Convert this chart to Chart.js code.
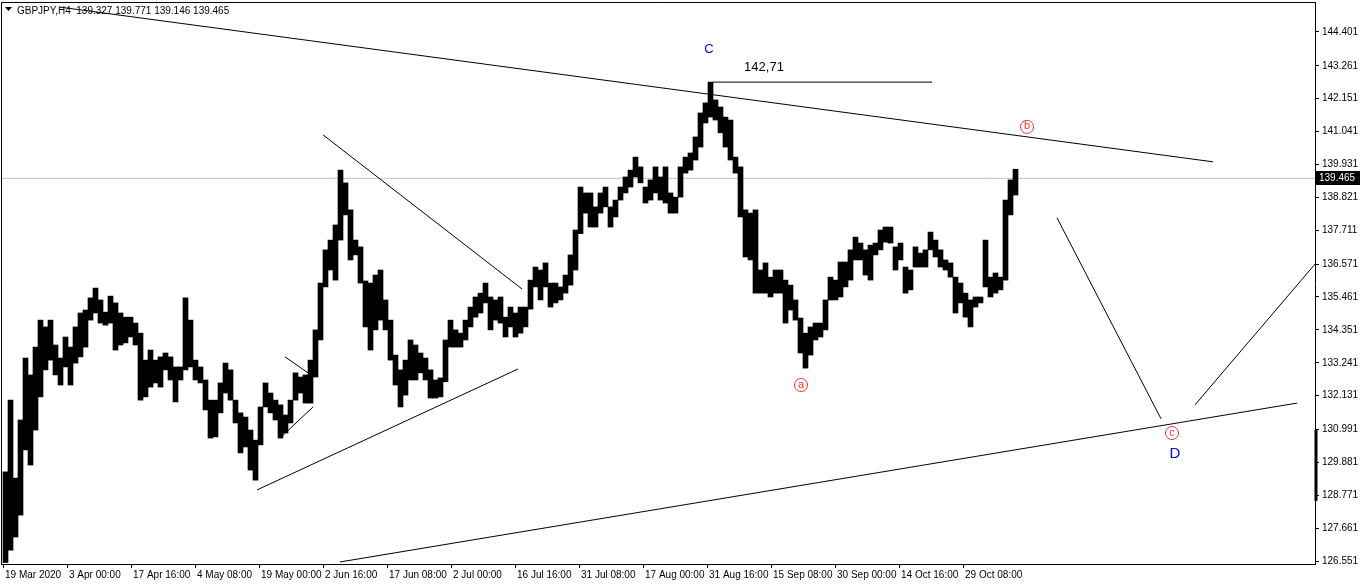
<!DOCTYPE html>
<html>
<head>
<meta charset="utf-8">
<title>GBPJPY,H4</title>
<script src="https://cdn.jsdelivr.net/npm/chart.js@4.4.0/dist/chart.umd.min.js"></script>
<style>
  html, body { margin: 0; padding: 0; background: #fff; }
  #wrap { width: 1362px; height: 584px; }
</style>
</head>
<body>
<div id="wrap"><canvas id="chartCanvas" width="1362" height="584"></canvas></div>
<script>
(function() {
  'use strict';

  // time labels, one every 64 H4 bars starting at bar 0
  var timeLabels = ['19 Mar 2020', '3 Apr 00:00', '17 Apr 16:00', '4 May 08:00', '19 May 00:00',
    '2 Jun 16:00', '17 Jun 08:00', '2 Jul 00:00', '16 Jul 16:00', '31 Jul 08:00', '17 Aug 00:00',
    '31 Aug 16:00', '15 Sep 08:00', '30 Sep 00:00', '14 Oct 16:00', '29 Oct 08:00'];
  var barsPerLabel = 64;

  var priceTicks = [144.401, 143.261, 142.151, 141.041, 139.931, 138.821, 137.711, 136.571,
    135.461, 134.351, 133.241, 132.131, 130.991, 129.881, 128.771, 127.661, 126.551];

  // price range per group of 5 H4 bars
  var barsPerCol = 5;
  var colHigh = [
    129.56, 131.98, 129.35, 131.31, 133.40, 132.83, 133.77, 134.68, 134.45, 134.68,
    133.84, 133.40, 134.11, 133.77, 134.45, 134.92, 135.02, 135.43, 135.76, 135.36,
    134.95, 135.49, 135.26, 134.92, 134.78, 134.78, 134.58, 134.24, 133.33, 133.67,
    133.33, 133.44, 133.57, 133.44, 133.10, 133.10, 135.43, 134.68, 133.33, 133.10,
    132.66, 131.98, 131.98, 132.56, 133.23, 133.00, 131.98, 131.55, 131.41, 130.97,
    130.63, 131.75, 132.56, 132.22, 131.98, 131.82, 131.48, 131.98, 132.90, 132.76,
    132.83, 133.33, 134.35, 135.93, 137.05, 137.38, 137.89, 139.74, 139.31, 138.40,
    137.38, 137.15, 136.00, 135.93, 136.20, 136.37, 135.36, 134.68, 133.50, 133.00,
    133.33, 134.01, 133.84, 133.57, 133.40, 133.00, 132.66, 132.73, 134.01, 134.68,
    134.35, 134.24, 134.68, 135.12, 135.46, 135.59, 135.93, 135.46, 135.36, 135.46,
    134.78, 135.12, 134.92, 135.12, 135.12, 136.03, 136.47, 136.37, 136.61, 135.93,
    135.93, 135.80, 136.20, 136.88, 137.72, 139.17, 138.97, 138.97, 138.50, 138.97,
    139.17, 138.50, 138.73, 139.17, 139.51, 139.74, 140.18, 139.85, 139.17, 139.41,
    139.85, 139.51, 139.85, 138.97, 138.83, 139.85, 140.18, 140.32, 140.86, 141.67,
    142.01, 142.71, 142.11, 141.87, 141.53, 141.43, 140.18, 139.85, 138.40, 138.29,
    138.40, 136.37, 136.61, 136.13, 136.37, 136.37, 136.03, 135.86, 135.36, 134.75,
    134.24, 134.45, 134.58, 134.58, 135.36, 136.13, 136.03, 136.64, 136.64, 137.05,
    137.48, 137.28, 137.05, 137.21, 137.28, 137.72, 137.82, 137.82, 137.15, 137.28,
    136.47, 136.37, 137.15, 136.94, 137.05, 137.65, 137.38, 137.05, 136.71, 136.61,
    136.13, 135.93, 135.59, 135.36, 135.46, 135.46, 137.38, 136.13, 136.27, 136.13,
    138.73, 139.41, 139.77
  ];
  var colLow = [
    126.50, 126.92, 127.36, 128.10, 130.30, 129.79, 130.97, 132.09, 133.00, 133.33,
    132.83, 132.49, 133.10, 132.49, 133.23, 133.44, 133.77, 134.68, 134.92, 134.58,
    134.51, 134.58, 133.67, 133.84, 133.91, 134.11, 133.84, 131.98, 132.09, 132.42,
    132.56, 132.42, 133.00, 132.66, 131.92, 132.66, 133.00, 133.10, 132.66, 132.56,
    131.65, 130.70, 130.74, 131.55, 132.22, 131.98, 131.21, 130.20, 130.40, 129.62,
    129.28, 130.47, 131.75, 131.55, 131.31, 130.70, 130.87, 131.21, 131.98, 132.22,
    131.88, 131.88, 132.76, 134.01, 135.80, 136.37, 136.03, 137.38, 138.23, 136.71,
    136.88, 135.93, 134.45, 133.67, 134.35, 134.68, 134.35, 133.33, 132.49, 131.75,
    132.15, 132.66, 132.66, 132.90, 132.66, 132.05, 132.05, 132.09, 132.60, 133.77,
    133.77, 133.77, 134.01, 134.45, 134.78, 134.92, 135.26, 134.35, 134.68, 134.58,
    134.11, 134.45, 134.11, 134.24, 134.45, 135.05, 135.80, 135.36, 135.80, 135.12,
    135.26, 135.36, 135.59, 135.86, 136.37, 137.60, 138.29, 137.82, 137.82, 138.29,
    138.50, 137.82, 138.16, 138.73, 138.97, 139.17, 139.51, 139.31, 138.63, 138.73,
    138.97, 138.73, 138.63, 138.29, 138.29, 138.83, 139.64, 139.74, 140.08, 140.52,
    141.33, 141.53, 141.43, 141.00, 140.52, 140.08, 139.64, 138.16, 136.81, 136.71,
    135.59, 135.59, 135.59, 135.46, 135.59, 135.59, 134.58, 135.02, 134.68, 133.57,
    133.06, 133.50, 134.01, 134.11, 134.35, 135.36, 135.36, 135.46, 135.80, 136.03,
    136.71, 136.71, 136.20, 136.03, 136.88, 137.05, 137.31, 137.28, 136.37, 136.71,
    135.59, 135.70, 136.47, 136.47, 136.47, 137.05, 136.81, 136.47, 136.37, 136.13,
    134.92, 135.26, 134.78, 134.45, 135.12, 135.26, 135.80, 135.46, 135.59, 135.70,
    136.03, 138.23, 138.90
  ];

  var symbol = 'GBPJPY,H4';
  var lastQuote = [139.327, 139.771, 139.146, 139.465]; // open, high, low, close

  // drawn trend lines: [bar, price, bar, price]
  var trendLines = [
    [57, 145.24, 1210, 140.02],
    [337, 126.52, 1294, 131.88],
    [320, 140.93, 519, 135.73],
    [254, 128.95, 515, 133.03],
    [282, 133.44, 305, 132.90],
    [277, 130.70, 310, 131.75],
    [710, 142.71, 929, 142.71],
    [1054, 138.13, 1158, 131.35],
    [1192, 131.82, 1312, 136.57]
  ];

  // wave labels: [text, bar, price]
  var waveLabels = [['C', 706, 143.80], ['D', 1172, 130.16]];
  var subWaves = [['a', 798, 132.49], ['b', 1024, 141.20], ['c', 1169, 130.87]];
  var levelLabel = ['142,71', 761, 143.22];
  var axisMarker = [130.97, 128.58];

  var xMin = -2, xMax = 1312;
  var yMin = 126.451, yMax = 145.413;

  function buildDatasets() {
    var sets = [];
    sets.push({
      type: 'bar',
      data: colHigh.map(function(h, i) {
        return { x: i * barsPerCol + barsPerCol / 2, y: [colLow[i], h] };
      }),
      backgroundColor: '#000',
      borderWidth: 0,
      barThickness: barsPerCol,
      order: 5
    });
    sets.push({
      type: 'line',
      data: [{ x: xMin, y: lastQuote[3] }, { x: xMax, y: lastQuote[3] }],
      borderColor: '#c0c0c0',
      borderWidth: 1,
      pointRadius: 0,
      order: 10
    });
    trendLines.forEach(function(t) {
      sets.push({
        type: 'line',
        data: [{ x: t[0], y: t[1] }, { x: t[2], y: t[3] }],
        borderColor: '#000',
        borderWidth: 1,
        pointRadius: 0,
        tension: 0,
        order: 1
      });
    });
    return sets;
  }

  var overlay = {
    id: 'overlay',
    afterDraw: function(chart) {
      var ctx = chart.ctx;
      var a = chart.chartArea;
      var xs = chart.scales.x;
      var ys = chart.scales.y;
      ctx.save();

      ctx.strokeStyle = '#000';
      ctx.lineWidth = 1;
      ctx.beginPath();
      ctx.moveTo(a.left + 0.5, a.bottom);
      ctx.lineTo(a.left + 0.5, a.top + 0.5);
      ctx.lineTo(a.right, a.top + 0.5);
      ctx.stroke();

      // header
      ctx.fillStyle = '#000';
      ctx.beginPath();
      ctx.moveTo(5, 7); ctx.lineTo(12, 7); ctx.lineTo(8.5, 11);
      ctx.closePath();
      ctx.fill();
      ctx.font = '10px "Liberation Sans"';
      ctx.textAlign = 'left';
      ctx.textBaseline = 'alphabetic';
      ctx.fillText(symbol + '  ' + lastQuote.map(function(v) { return v.toFixed(3); }).join(' '), 17, 14);

      // wave labels
      ctx.textAlign = 'center';
      ctx.textBaseline = 'middle';
      ctx.fillStyle = '#0000ff';
      waveLabels.forEach(function(w) {
        ctx.font = (w[0] === 'D' ? '15px' : '13px') + ' "Liberation Sans"';
        ctx.fillText(w[0], xs.getPixelForValue(w[1]), ys.getPixelForValue(w[2]));
      });
      ctx.fillStyle = '#000';
      ctx.font = '13px "Liberation Sans"';
      ctx.fillText(levelLabel[0], xs.getPixelForValue(levelLabel[1]), ys.getPixelForValue(levelLabel[2]));

      ctx.strokeStyle = '#ff3030';
      ctx.fillStyle = '#ff3030';
      ctx.font = '11px "Liberation Sans"';
      subWaves.forEach(function(w) {
        var px = xs.getPixelForValue(w[1]);
        var py = ys.getPixelForValue(w[2]);
        ctx.beginPath();
        ctx.arc(px, py, 6.5, 0, Math.PI * 2);
        ctx.stroke();
        ctx.fillText(w[0], px, py - 0.5);
      });

      // axis marker and price box
      ctx.fillStyle = '#000';
      var m1 = ys.getPixelForValue(axisMarker[0]);
      var m2 = ys.getPixelForValue(axisMarker[1]);
      ctx.fillRect(a.right - 0.5, m1, 3, m2 - m1);

      var py = Math.round(ys.getPixelForValue(lastQuote[3]));
      ctx.fillRect(a.right + 1, py - 7, 44, 14);
      ctx.fillStyle = '#fff';
      ctx.textAlign = 'left';
      ctx.font = '10px "Liberation Sans"';
      ctx.fillText(lastQuote[3].toFixed(3), a.right + 4, py);
      ctx.restore();
    }
  };

  function init() {
    var canvas = document.getElementById('chartCanvas');
    var ctx = canvas.getContext('2d');
    new Chart(ctx, {
      type: 'bar',
      data: { datasets: buildDatasets() },
      options: {
        responsive: false,
        animation: false,
        devicePixelRatio: 1,
        layout: { padding: { left: 1, top: 2, right: 0, bottom: 0 } },
        plugins: { legend: { display: false }, tooltip: { enabled: false } },
        scales: {
          x: {
            type: 'linear',
            min: xMin,
            max: xMax,
            offset: false,
            grid: { drawOnChartArea: false, drawTicks: true, tickLength: 4, color: '#000', offset: false },
            border: { display: true, color: '#000' },
            afterBuildTicks: function(scale) {
              scale.ticks = timeLabels.map(function(l, i) { return { value: i * barsPerLabel }; });
            },
            afterFit: function(scale) {
              scale.height = 20;
              scale.paddingLeft = 0;
              scale.paddingRight = 0;
            },
            ticks: {
              autoSkip: false,
              maxRotation: 0,
              minRotation: 0,
              align: 'start',
              labelOffset: 2,
              padding: 1,
              color: '#000',
              font: { family: 'Liberation Sans', size: 10 },
              callback: function(v) { return timeLabels[Math.round(v / barsPerLabel)]; }
            }
          },
          y: {
            type: 'linear',
            position: 'right',
            min: yMin,
            max: yMax,
            grid: { drawOnChartArea: false, drawTicks: true, tickLength: 4, color: '#000' },
            border: { display: true, color: '#000' },
            afterBuildTicks: function(scale) {
              scale.ticks = priceTicks.map(function(v) { return { value: v }; });
            },
            afterFit: function(scale) {
              scale.width = 47;
              scale.paddingTop = 0;
              scale.paddingBottom = 0;
            },
            ticks: {
              padding: 3,
              color: '#000',
              font: { family: 'Liberation Sans', size: 10 },
              callback: function(v) { return v.toFixed(3); }
            }
          }
        }
      },
      plugins: [overlay]
    });
  }

  document.addEventListener('DOMContentLoaded', init);
})();
</script>
</body>
</html>
